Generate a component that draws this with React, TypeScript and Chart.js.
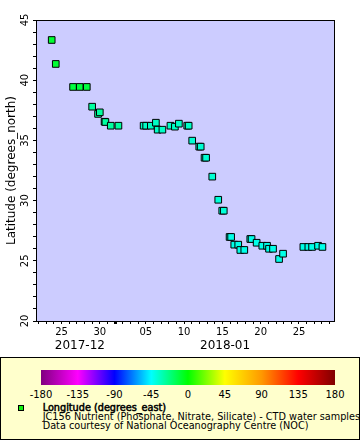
import React, { useEffect, useRef } from 'react';
import { Chart, registerables } from 'chart.js';

Chart.register(...registerables);

// x values: days since 2017-12-01 00:00 (Dec 25 = 24, Jan 1 = 31)
const days = [
  22.72, 23.25, 25.51, 26.38, 27.3, 28.0, 28.77, 29.0, 29.62, 29.73, 30.43, 31.43,
  34.72, 35.05, 35.66, 36.32, 36.55, 37.17, 38.22, 38.8, 39.32, 40.41, 40.6,
  41.06, 41.98, 42.17, 42.67, 42.87, 43.68, 44.46, 44.98, 45.18,
  45.94, 46.14, 46.55, 47.07, 47.34, 47.86, 48.64, 48.81, 49.47, 50.21, 50.83,
  51.09, 51.61, 52.4, 52.92, 55.57, 56.22, 56.71, 57.49, 58.06,
];
const lats = [
  43.34, 41.35, 39.44, 39.44, 39.44, 37.8, 37.2, 37.33, 36.55, 36.53, 36.22, 36.22,
  36.22, 36.22, 36.22, 36.47, 35.89, 35.89, 36.22, 36.14, 36.39, 36.22, 36.22,
  34.98, 34.48, 34.48, 33.56, 33.56, 31.99, 30.07, 29.16, 29.16,
  26.98, 26.98, 26.34, 26.34, 25.9, 25.9, 26.81, 26.81, 26.5, 26.25, 26.25,
  26.0, 26.0, 25.15, 25.59, 26.15, 26.15, 26.15, 26.25, 26.15,
];
const lons = [
  -9, -9, -11, -11, -11, -28, -28, -28, -28, -28, -28, -28,
  -35, -35, -35, -35, -35, -35, -35, -35, -35, -35, -35,
  -37, -37, -37, -37, -37, -37, -38, -38, -38,
  -41, -41, -41, -41, -41, -41, -41, -41, -41, -41, -41,
  -41, -41, -41, -41, -41, -41, -41, -41, -41,
];

const xMin = 20.67;
const xMax = 59.7;
const yMin = 20;
const yMax = 45;
const monthLabels = ['2017-12', '2018-01'];
const monthStartDays = [0, 31];
const monthCenters = [26.4, 45.35];

const colorbarTicks = [-180, -135, -90, -45, 0, 45, 90, 135, 180];
const colorbarColors = [
  '#800080', '#ff00ff', '#0000ff', '#00ffff', '#00ff00', '#ffff00', '#ff9900', '#ff0000', '#800000',
];

const legendTitle = 'Longitude (degrees_east)';
const legendLines = [
  'JC156 Nutrient (Phosphate, Nitrate, Silicate) - CTD water samples',
  'Data courtesy of National Oceanography Centre (NOC)',
];
const yTitle = 'Latitude (degrees_north)';

function hexToRgb(h: string) {
  return [parseInt(h.slice(1, 3), 16), parseInt(h.slice(3, 5), 16), parseInt(h.slice(5, 7), 16)];
}

function lonToColor(v: number) {
  for (let i = 0; i < colorbarTicks.length - 1; i++) {
    const a = colorbarTicks[i];
    const b = colorbarTicks[i + 1];
    if (v >= a && v <= b) {
      const t = (v - a) / (b - a);
      const c1 = hexToRgb(colorbarColors[i]);
      const c2 = hexToRgb(colorbarColors[i + 1]);
      const c = c1.map((x, k) => Math.round(x + (c2[k] - x) * t));
      return `rgb(${c[0]},${c[1]},${c[2]})`;
    }
  }
  return '#000';
}

function dayLabel(d: number) {
  let start = 0;
  for (let i = 0; i < monthStartDays.length; i++) if (d >= monthStartDays[i]) start = monthStartDays[i];
  const dom = d - start + 1;
  if (dom % 5 !== 0) return '';
  return dom < 10 ? '0' + dom : String(dom);
}

const framePlugin = {
  id: 'frame',
  beforeDraw(chart: any) {
    const { ctx, chartArea } = chart;
    ctx.save();
    ctx.fillStyle = '#ccccff';
    ctx.fillRect(chartArea.left, chartArea.top, chartArea.right - chartArea.left, chartArea.bottom - chartArea.top);
    ctx.restore();
  },
  beforeDatasetsDraw(chart: any) {
    const { ctx, chartArea } = chart;
    ctx.save();
    ctx.strokeStyle = '#000';
    ctx.lineWidth = 1;
    ctx.strokeRect(chartArea.left + 0.5, chartArea.top + 0.5, chartArea.right - chartArea.left - 1, chartArea.bottom - chartArea.top);
    ctx.restore();
  },
  afterDraw(chart: any) {
    const { ctx } = chart;
    const xs = chart.scales.x;
    ctx.save();
    ctx.fillStyle = '#000';
    ctx.font = '12px "DejaVu Sans"';
    ctx.textAlign = 'center';
    ctx.textBaseline = 'middle';
    monthLabels.forEach((m, i) => {
      ctx.fillText(m, xs.getPixelForValue(monthCenters[i]), 346);
    });
    ctx.restore();
  },
};

function ChartView() {
  const ref = useRef<HTMLCanvasElement | null>(null);
  useEffect(() => {
    if (!ref.current) return;
    Chart.defaults.font.family = '"DejaVu Sans"';
    Chart.defaults.color = '#000';
    const chart = new Chart(ref.current, {
      type: 'scatter',
      data: {
        datasets: [
          {
            data: days.map((d, i) => ({ x: d, y: lats[i] })),
            pointStyle: 'rect',
            pointRadius: 4.7,
            pointHoverRadius: 4.7,
            pointBackgroundColor: lons.map(lonToColor),
            pointBorderColor: '#000',
            pointBorderWidth: 1,
          },
        ],
      },
      options: {
        animation: false,
        responsive: false,
        events: [],
        layout: { padding: { top: 20, right: 25, left: 0, bottom: 0 }, autoPadding: false },
        plugins: { legend: { display: false }, tooltip: { enabled: false } },
        scales: {
          x: {
            type: 'linear',
            min: xMin,
            max: xMax,
            afterFit: (s: any) => { s.height = 36; },
            afterBuildTicks: (s: any) => {
              const t = [];
              for (let d = Math.ceil(xMin); d <= Math.floor(xMax); d++) t.push({ value: d });
              s.ticks = t;
            },
            ticks: {
              autoSkip: false,
              maxRotation: 0,
              minRotation: 0,
              padding: 2,
              font: { size: 10 },
              color: '#000',
              callback: (v: any) => dayLabel(Number(v)),
            },
            grid: {
              drawOnChartArea: false,
              tickLength: 3,
              color: '#000',
              lineWidth: (c: any) => (c.tick && monthStartDays.includes(c.tick.value) ? 3 : 1),
            },
            border: { display: false },
          },
          y: {
            type: 'linear',
            min: yMin,
            max: yMax,
            afterFit: (s: any) => { s.width = 36; },
            ticks: {
              stepSize: 1,
              autoSkip: false,
              minRotation: 90,
              maxRotation: 90,
              crossAlign: 'center',
              padding: 1,
              font: { size: 10 },
              color: '#000',
              callback: (v: any) => (Number(v) % 5 === 0 ? String(v) : ''),
            },
            grid: { drawOnChartArea: false, tickLength: 3, color: '#000' },
            border: { display: false },
            title: {
              display: true,
              text: yTitle,
              font: { size: 12 },
              color: '#000',
              padding: { top: 5, bottom: 0 },
            },
          },
        },
      },
      plugins: [framePlugin],
    } as any);
    return () => chart.destroy();
  }, []);
  return <canvas ref={ref} width={360} height={357} style={{ display: 'block' }} />;
}

export default function App() {
  const gradient = `linear-gradient(to right, ${colorbarColors
    .map((c, i) => `${c} ${(i / (colorbarColors.length - 1)) * 100}%`)
    .join(', ')})`;
  const barLeft = 40;
  const barWidth = 294;
  return (
    <div style={{ position: 'absolute', left: 0, top: 0, width: 360, height: 440, overflow: 'hidden', background: '#fff', fontFamily: '"DejaVu Sans"' }}>
      <ChartView />
      <div
        style={{
          position: 'absolute', left: 0, top: 357, width: 360, height: 83, boxSizing: 'border-box',
          border: '1px solid #000', background: '#ffffcc', overflow: 'hidden',
        }}
      >
        <div style={{ position: 'absolute', left: barLeft, top: 12, width: barWidth, height: 15, background: gradient }} />
        {colorbarTicks.map((t, i) => (
          <div
            key={t}
            style={{
              position: 'absolute', left: barLeft + (i * barWidth) / (colorbarTicks.length - 1), top: 31,
              transform: 'translateX(-50%)', fontSize: 10, lineHeight: '12px', color: '#000', whiteSpace: 'nowrap',
            }}
          >
            {t}
          </div>
        ))}
        <div style={{ position: 'absolute', left: 17, top: 47, width: 4, height: 4, border: '1px solid #000', background: '#11ee11' }} />
        <div style={{ position: 'absolute', left: 41.7, top: 45, fontSize: 9.7, lineHeight: '9.2px', color: '#000', whiteSpace: 'nowrap' }}>
          <div style={{ fontWeight: 'normal', WebkitTextStroke: '0.5px #000' } as any}>{legendTitle}</div>
          {legendLines.map((l) => (
            <div key={l}>{l}</div>
          ))}
        </div>
      </div>
    </div>
  );
}
